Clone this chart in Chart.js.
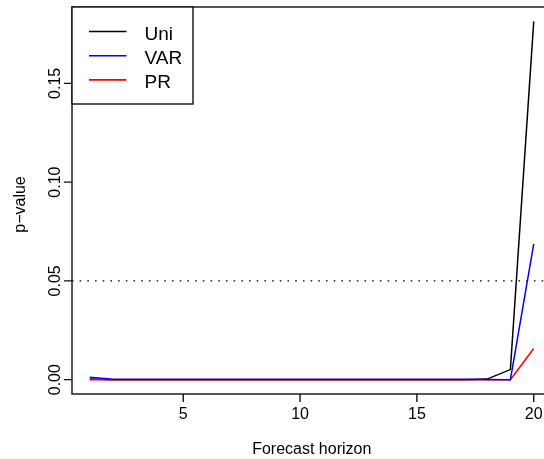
<!DOCTYPE html>
<html>
<head>
<meta charset="utf-8">
<script src="https://cdn.jsdelivr.net/npm/chart.js@4/dist/chart.umd.min.js"></script>
<style>
  html, body { margin: 0; padding: 0; background: #fff; overflow: hidden; }
  #wrap { position: absolute; left: 0; top: 0; }
</style>
</head>
<body>
<div id="wrap"><canvas id="c" width="560" height="459"></canvas></div>
<script>
// Forecast horizons and p-values of the three tests
const horizons = [1, 2, 3, 4, 5, 6, 7, 8, 9, 10, 11, 12, 13, 14, 15, 16, 17, 18, 19, 20];
const uniP = [0.0003, 0.0000, 0.0000, 0.0000, 0.0000, 0.0000, 0.0000, 0.0000, 0.0000, 0.0000,
              0.0000, 0.0000, 0.0000, 0.0000, 0.0000, 0.0000, 0.0000, 0.0003, 0.0051, 0.1814];
const varP = [0.0012, 0.0002, 0.0002, 0.0002, 0.0002, 0.0002, 0.0002, 0.0002, 0.0002, 0.0002,
              0.0002, 0.0002, 0.0002, 0.0002, 0.0002, 0.0002, 0.0002, 0.0001, 0.0000, 0.0688];
const prP  = [0.0000, 0.0000, 0.0000, 0.0000, 0.0000, 0.0000, 0.0000, 0.0000, 0.0000, 0.0000,
              0.0000, 0.0000, 0.0000, 0.0000, 0.0000, 0.0000, 0.0000, 0.0000, 0.0000, 0.0158];

const seriesNames = ['Uni', 'VAR', 'PR'];
const seriesColors = ['#000000', '#0000ff', '#ff0000'];

const xTicks = [5, 10, 15, 20];
const yTicks = [0, 0.05, 0.10, 0.15];
const yTickLabels = ['0.00', '0.05', '0.10', '0.15'];
const significance = 0.05;

const xLabel = 'Forecast horizon';
const yLabel = 'p\u2212value';

// axis limits padded by 4% like a base R plot
function padded(values) {
  const lo = Math.min(...values), hi = Math.max(...values);
  const d = (hi - lo) * 0.04;
  return [lo - d, hi + d];
}
const [xMin, xMax] = padded(horizons);
const [yMin, yMax] = padded(uniP.concat(varP, prP));

const FONT = '"Liberation Sans", Arial, Helvetica, sans-serif';

const toPoints = arr => arr.map((v, i) => ({ x: horizons[i], y: v }));

const frame = {
  id: 'frame',
  beforeDatasetsDraw(chart) {
    const ctx = chart.ctx;
    const { x, y } = chart.scales;
    const area = chart.chartArea;
    ctx.save();
    // dotted reference line at the significance level
    ctx.strokeStyle = '#000';
    ctx.lineWidth = 1.4;
    ctx.setLineDash([1.6, 6.1]);
    ctx.lineDashOffset = -7.6;
    const yy = y.getPixelForValue(significance);
    ctx.beginPath();
    ctx.moveTo(area.left, yy);
    ctx.lineTo(area.right, yy);
    ctx.stroke();
    ctx.restore();
  },
  afterDatasetsDraw(chart) {
    const ctx = chart.ctx;
    const { x, y } = chart.scales;
    const area = chart.chartArea;
    ctx.save();
    ctx.strokeStyle = '#111';
    ctx.lineWidth = 1.4;
    ctx.setLineDash([]);
    // box
    ctx.strokeRect(area.left, area.top, area.right - area.left, area.bottom - area.top);

    // x axis ticks and labels
    ctx.fillStyle = '#000';
    ctx.font = '16px ' + FONT;
    ctx.textAlign = 'center';
    ctx.textBaseline = 'alphabetic';
    ctx.beginPath();
    xTicks.forEach(t => {
      const px = x.getPixelForValue(t);
      ctx.moveTo(px, area.bottom);
      ctx.lineTo(px, area.bottom + 8);
    });
    ctx.stroke();
    xTicks.forEach(t => {
      ctx.fillText(String(t), x.getPixelForValue(t), area.bottom + 25);
    });

    // y axis ticks and rotated labels
    ctx.beginPath();
    yTicks.forEach(t => {
      const py = y.getPixelForValue(t);
      ctx.moveTo(area.left, py);
      ctx.lineTo(area.left - 8, py);
    });
    ctx.stroke();
    yTicks.forEach((t, i) => {
      const py = y.getPixelForValue(t);
      ctx.save();
      ctx.translate(area.left - 12, py);
      ctx.rotate(-Math.PI / 2);
      ctx.fillText(yTickLabels[i], 0, 0);
      ctx.restore();
    });

    // axis titles
    ctx.fillText(xLabel, (area.left + area.right) / 2, 454);
    ctx.save();
    ctx.translate(25, (area.top + area.bottom) / 2 + 4);
    ctx.rotate(-Math.PI / 2);
    ctx.fillText(yLabel, 0, 0);
    ctx.restore();

    // legend
    const lx = area.left, ly = area.top;
    ctx.fillStyle = '#fff';
    ctx.fillRect(lx, ly, 121, 97);
    ctx.strokeRect(lx, ly, 121, 97);
    ctx.font = '19px ' + FONT;
    ctx.textAlign = 'left';
    seriesNames.forEach((name, i) => {
      const rowY = ly + 24.5 + i * 24.2;
      ctx.strokeStyle = seriesColors[i];
      ctx.lineWidth = 1.6;
      ctx.beginPath();
      ctx.moveTo(lx + 17, rowY);
      ctx.lineTo(lx + 54.5, rowY);
      ctx.stroke();
      ctx.fillStyle = '#000';
      ctx.fillText(name, lx + 72.5, rowY + 8);
    });
    ctx.restore();
  }
};

new Chart(document.getElementById('c'), {
  type: 'line',
  data: {
    datasets: [
      { label: seriesNames[1], data: toPoints(varP), borderColor: seriesColors[1], order: 0 },
      { label: seriesNames[2], data: toPoints(prP), borderColor: seriesColors[2], order: 1 },
      { label: seriesNames[0], data: toPoints(uniP), borderColor: seriesColors[0], order: 2 }
    ]
  },
  options: {
    responsive: false,
    animation: false,
    devicePixelRatio: 1,
    layout: { padding: { left: 72, top: 7, right: 8.5, bottom: 65 } },
    elements: {
      line: { borderWidth: 1.5, tension: 0, fill: false, borderCapStyle: 'butt' },
      point: { radius: 0, hoverRadius: 0 }
    },
    scales: {
      x: { type: 'linear', min: xMin, max: xMax, display: false },
      y: { type: 'linear', min: yMin, max: yMax, display: false }
    },
    plugins: {
      legend: { display: false },
      tooltip: { enabled: false }
    }
  },
  plugins: [frame]
});
</script>
</body>
</html>
